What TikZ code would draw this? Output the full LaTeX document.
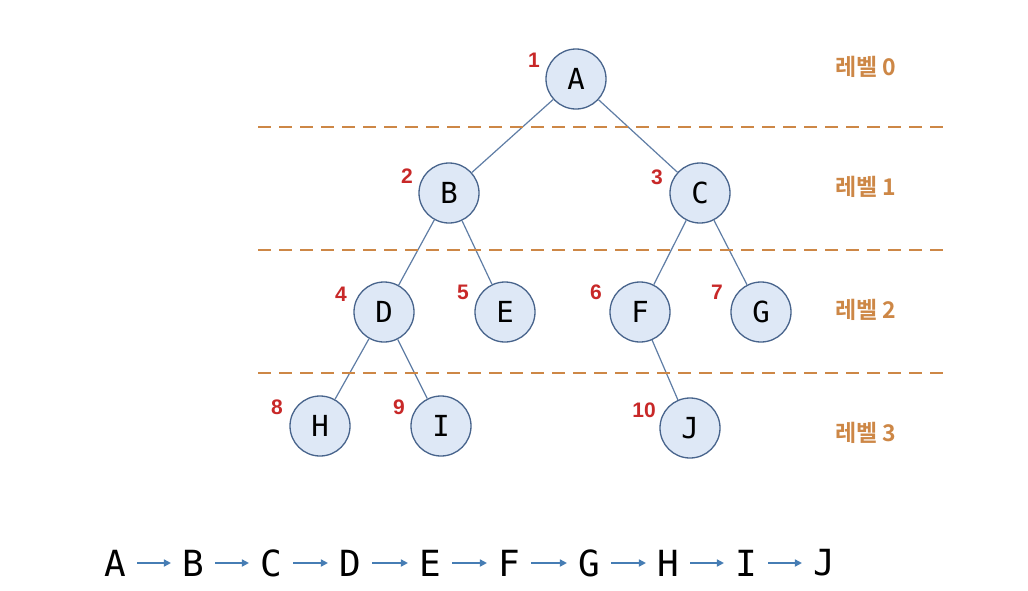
\documentclass[tikz,border=0pt]{standalone}
\usepackage{fontspec}
\setmainfont{DejaVu Sans Mono}
\newfontfamily\korfont{Noto Sans CJK KR Bold}
\newfontfamily\numfont{Liberation Sans}
\usetikzlibrary{arrows.meta}
\definecolor{nodefill}{RGB}{222,232,246}
\definecolor{nodeline}{RGB}{72,100,140}
\definecolor{edgecol}{RGB}{95,125,165}
\definecolor{dashcol}{RGB}{205,135,70}
\definecolor{numred}{RGB}{200,40,40}
\definecolor{lvlcol}{RGB}{205,135,70}
\definecolor{arrcol}{RGB}{70,125,180}
\begin{document}
\begin{tikzpicture}[x=1pt,y=-1pt,
  treenode/.style={circle,draw=nodeline,fill=nodefill,line width=1.3pt,minimum size=60pt,inner sep=0pt,font=\fontsize{29}{29}\selectfont},
  idx/.style={text=numred,font=\numfont\bfseries\fontsize{21}{21}\selectfont,inner sep=0pt},
  lvl/.style={text=lvlcol,font=\korfont\fontsize{23}{23}\selectfont,inner sep=0pt,anchor=west},
  edge/.style={draw=edgecol,line width=1.2pt},
  sep/.style={draw=dashcol,line width=2.2pt,dash pattern=on 13pt off 8pt},
  seqletter/.style={font=\fontsize{36}{36}\selectfont,inner sep=2pt},
  seqarrow/.style={draw=arrcol,line width=1.6pt,shorten <=9pt,shorten >=9pt,-{Triangle[length=7pt,width=7pt]}}
]
\useasboundingbox (0,0) rectangle (1028,590);
\fill[white] (0,0) rectangle (1028,590);
% separator end points
\coordinate (s1a) at (258,127); \coordinate (s1b) at (945,127);
\coordinate (s2a) at (258,250); \coordinate (s2b) at (945,250);
\coordinate (s3a) at (258,373); \coordinate (s3b) at (945,373);
% nodes
\node[treenode] (A) at (576,79) {A};
\node[treenode] (B) at (449,193) {B};
\node[treenode] (C) at (700,193) {C};
\node[treenode] (D) at (384,312) {D};
\node[treenode] (E) at (505,312) {E};
\node[treenode] (F) at (640,312) {F};
\node[treenode] (G) at (761,312) {G};
\node[treenode] (H) at (320,426) {H};
\node[treenode] (I) at (441,426) {I};
\node[treenode] (J) at (690,428) {J};
% edges
\draw[edge] (A) -- (B);
\draw[edge] (A) -- (C);
\draw[edge] (B) -- (D);
\draw[edge] (B) -- (E);
\draw[edge] (C) -- (F);
\draw[edge] (C) -- (G);
\draw[edge] (D) -- (H);
\draw[edge] (D) -- (I);
\draw[edge] (F) -- (J);
% separators over edges
\draw[sep] (s1a) -- (s1b);
\draw[sep] (s2a) -- (s2b);
\draw[sep] (s3a) -- (s3b);
% index labels
\node[idx] (n1) at (534,60) {1};
\node[idx] (n2) at (407,176) {2};
\node[idx] (n3) at (657,177) {3};
\node[idx] (n4) at (341,294) {4};
\node[idx] (n5) at (463,292) {5};
\node[idx] (n6) at (596,292) {6};
\node[idx] (n7) at (717,292) {7};
\node[idx] (n8) at (277,407) {8};
\node[idx] (n9) at (399,407) {9};
\node[idx] (n10) at (644,410) {10};
% level labels
\node[lvl] (L0) at (835,67) {레벨 0};
\node[lvl] (L1) at (835,187) {레벨 1};
\node[lvl] (L2) at (835,310) {레벨 2};
\node[lvl] (L3) at (835,433) {레벨 3};
% sequence
\foreach \n/\x in {A/115,B/193,C/271,D/350,E/430,F/509,G/589,H/668,I/746,J/824}
  \node[seqletter] (q\n) at (\x,563) {\n};
\draw[seqarrow] (qA) -- (qB);
\draw[seqarrow] (qB) -- (qC);
\draw[seqarrow] (qC) -- (qD);
\draw[seqarrow] (qD) -- (qE);
\draw[seqarrow] (qE) -- (qF);
\draw[seqarrow] (qF) -- (qG);
\draw[seqarrow] (qG) -- (qH);
\draw[seqarrow] (qH) -- (qI);
\draw[seqarrow] (qI) -- (qJ);
\end{tikzpicture}
\end{document}
